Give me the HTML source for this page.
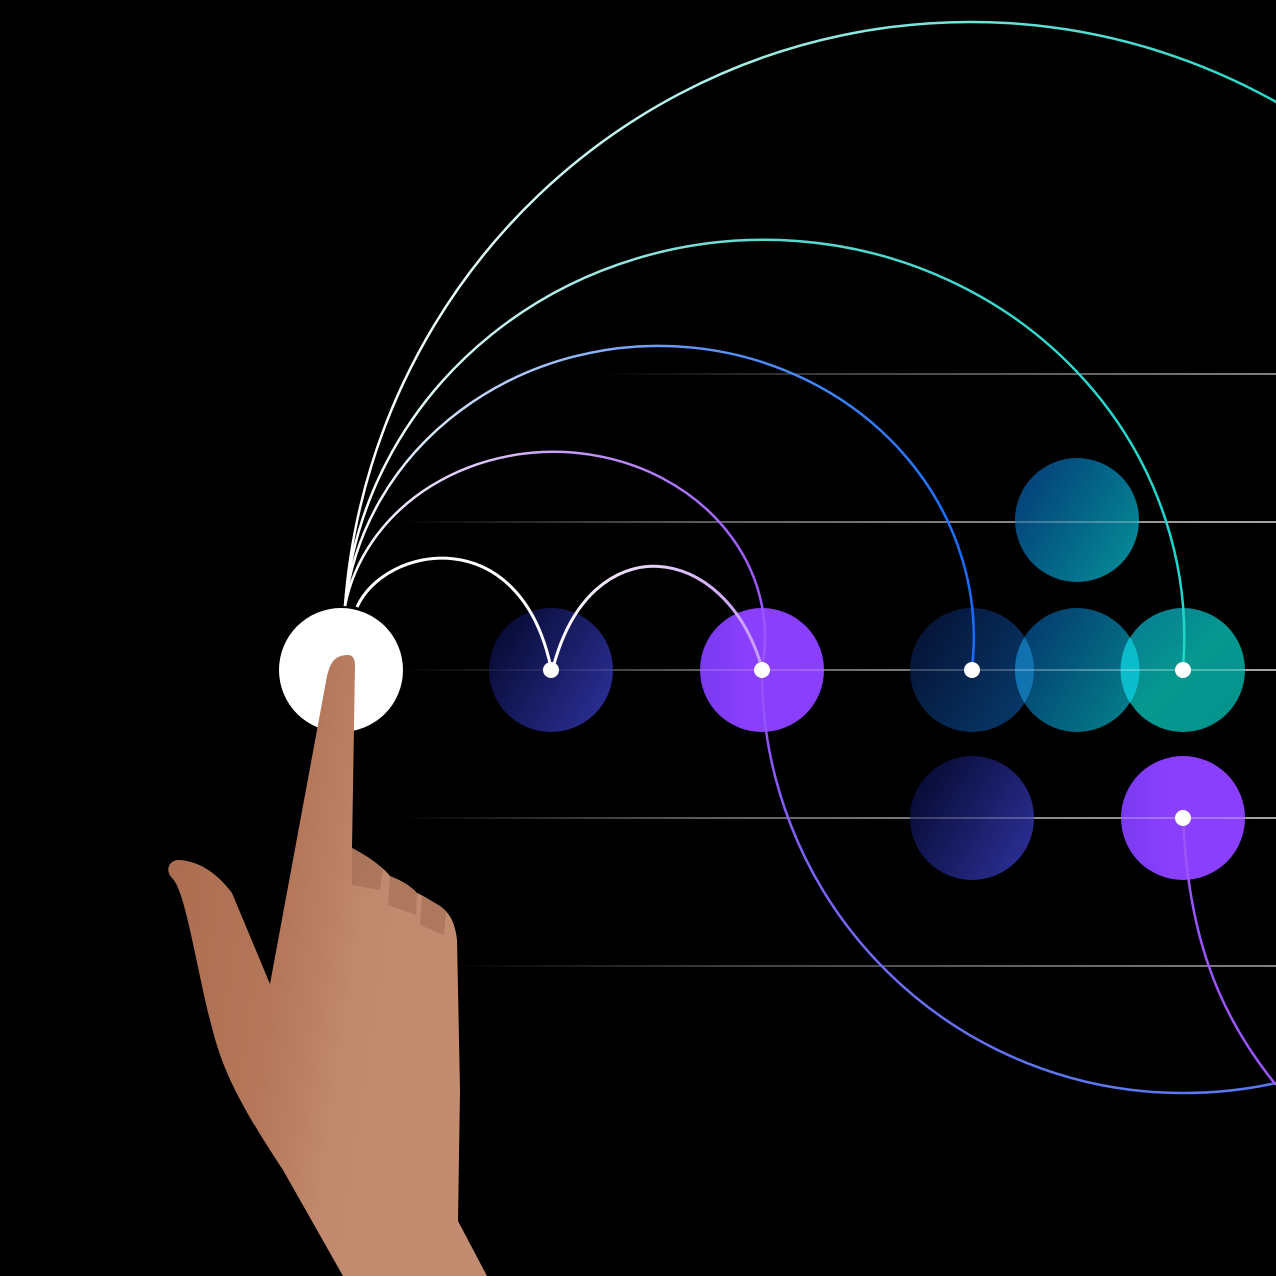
<!DOCTYPE html>
<html><head><meta charset="utf-8"><style>
html,body{margin:0;padding:0;background:#000;}
svg{display:block;}
</style></head><body>
<svg width="1276" height="1276" viewBox="0 0 1276 1276" xmlns="http://www.w3.org/2000/svg">
<defs>
<linearGradient id="hl" x1="0" x2="1" y1="0" y2="0"><stop offset="0" stop-color="#fff" stop-opacity="0"/><stop offset="0.35" stop-color="#fff" stop-opacity="0.25"/><stop offset="1" stop-color="#fff" stop-opacity="0.5"/></linearGradient>
<linearGradient id="navy" x1="0" y1="0.2" x2="1" y2="0.8"><stop offset="0" stop-color="#050a30"/><stop offset="1" stop-color="#2c2f96"/></linearGradient>
<linearGradient id="navy2" x1="0" y1="0.2" x2="1" y2="0.8"><stop offset="0" stop-color="#061235"/><stop offset="1" stop-color="#073a6a"/></linearGradient>
<linearGradient id="tealA" x1="0" y1="0.2" x2="1" y2="0.8"><stop offset="0" stop-color="#043e78"/><stop offset="1" stop-color="#058a96"/></linearGradient>
<linearGradient id="tealB" x1="0" y1="0" x2="1" y2="1"><stop offset="0" stop-color="#077f9a"/><stop offset="0.5" stop-color="#05a097"/><stop offset="1" stop-color="#049a95"/></linearGradient>
<linearGradient id="purp" x1="0" x2="1"><stop offset="0" stop-color="#7a3af0"/><stop offset="0.4" stop-color="#8a3ffd"/><stop offset="1" stop-color="#8a3ffd"/></linearGradient>
<linearGradient id="gA" gradientUnits="userSpaceOnUse" x1="345" y1="0" x2="1276" y2="0"><stop offset="0" stop-color="#fff"/><stop offset="0.6" stop-color="#7fe6dc"/><stop offset="1" stop-color="#2ad6c8"/></linearGradient>
<linearGradient id="gB" gradientUnits="userSpaceOnUse" x1="345" y1="0" x2="1183" y2="0"><stop offset="0" stop-color="#fff"/><stop offset="0.5" stop-color="#5fd8d0"/><stop offset="1" stop-color="#1fd6cc"/></linearGradient>
<linearGradient id="gC" gradientUnits="userSpaceOnUse" x1="345" y1="0" x2="972" y2="0"><stop offset="0" stop-color="#fff"/><stop offset="0.5" stop-color="#6a9cf6"/><stop offset="1" stop-color="#1a6cff"/></linearGradient>
<linearGradient id="gD" gradientUnits="userSpaceOnUse" x1="345" y1="0" x2="762" y2="0"><stop offset="0" stop-color="#fff"/><stop offset="0.5" stop-color="#c9a2f8"/><stop offset="1" stop-color="#9a55fb"/></linearGradient>
<linearGradient id="gE" gradientUnits="userSpaceOnUse" x1="553" y1="0" x2="762" y2="0"><stop offset="0" stop-color="#fff"/><stop offset="1" stop-color="#c59af9"/></linearGradient>
<linearGradient id="gF" gradientUnits="userSpaceOnUse" x1="0" y1="670" x2="0" y2="1100"><stop offset="0" stop-color="#9a50fb"/><stop offset="1" stop-color="#5a78f0"/></linearGradient>
<linearGradient id="skin" x1="0" y1="0" x2="1" y2="0.3"><stop offset="0" stop-color="#a96a4e"/><stop offset="0.45" stop-color="#b5775a"/><stop offset="0.7" stop-color="#c18a6e"/><stop offset="1" stop-color="#c38b6f"/></linearGradient>
</defs>
<rect width="1276" height="1276" fill="#000"/>

<g>
<rect x="600" y="373" width="676" height="2" fill="url(#hl)"/>
<rect x="400" y="521" width="876" height="2" fill="url(#hl)"/>
<rect x="400" y="669" width="876" height="2" fill="url(#hl)"/>
<rect x="400" y="817" width="876" height="2" fill="url(#hl)"/>
<rect x="450" y="965" width="826" height="2" fill="url(#hl)"/>
</g>

<g>
<circle cx="551" cy="670" r="62" fill="url(#navy)"/>
<circle cx="762" cy="670" r="62" fill="url(#purp)"/>
<circle cx="972" cy="670" r="62" fill="url(#navy2)"/>
<circle cx="1077" cy="670" r="62" fill="url(#tealA)" opacity="0.92"/>
<circle cx="1183" cy="670" r="62" fill="url(#tealB)" opacity="0.95"/>
<circle cx="1077" cy="520" r="62" fill="url(#tealA)"/>
<circle cx="972" cy="818" r="62" fill="url(#navy)"/>
<circle cx="1183" cy="818" r="62" fill="url(#purp)"/>
<path d="M1024.5,637 A62,62 0 0 1 1024.5,703 A62,62 0 0 1 1024.5,637Z" fill="#1680c0" opacity="0.75"/>
<path d="M1130,637 A62,62 0 0 1 1130,703 A62,62 0 0 1 1130,637Z" fill="#0cc8d8" opacity="0.8"/>
<rect x="400" y="669" width="876" height="2" fill="url(#hl)" opacity="0.6"/>
<rect x="400" y="817" width="876" height="2" fill="url(#hl)" opacity="0.6"/>
<rect x="400" y="521" width="876" height="2" fill="url(#hl)" opacity="0.6"/>
</g>

<g fill="none" stroke-width="2.5">
<path d="M345,606 A627,630 0 0 1 1290,110" stroke="url(#gA)"/>
<path d="M345,606 A419,396 0 0 1 1183,668" stroke="url(#gB)"/>
<path d="M345,606 A314,290 0 0 1 972,668" stroke="url(#gC)"/>
<path d="M345,606 A209,183 0 0 1 762,668" stroke="url(#gD)"/>
<path d="M357,607 C385,545 520,520 551,668" stroke="#fff" stroke-width="3"/>
<path d="M553,668 C590,525 725,540 762,668" stroke="url(#gE)" stroke-width="3"/>
<path d="M762,670 A421,421 0 0 0 1183,1093 A421,421 0 0 0 1276,1083" stroke="url(#gF)"/>
<path d="M1183,818 C1188,930 1215,1010 1276,1085" stroke="#9a55fb"/>
</g>

<g fill="#fff">
<circle cx="551" cy="670" r="8"/><circle cx="762" cy="670" r="8"/><circle cx="972" cy="670" r="8"/><circle cx="1183" cy="670" r="8"/><circle cx="1183" cy="818" r="8"/>
</g>

<circle cx="341" cy="670" r="62" fill="#fff"/>

<path fill="url(#skin)" d="M348,655 C333,655 330,665 327,676 L270,984 L232,893 C215,870 195,860 177,860 C167,862 166,872 172,878 C185,890 195,960 210,1020 C220,1060 230,1090 283,1170 L343,1276 L487,1276 L458,1221 L460,1090 L457,940 C455,920 448,912 440,906 C430,900 422,895 417,893 C410,885 400,880 390,876 C385,870 375,860 352,848 L355,665 C355,658 352,655 348,655 Z"/>
<path fill="#8a5540" opacity="0.35" d="M352,848 C362,852 372,860 383,869 L380,890 L352,885Z"/>
<path fill="#8a5540" opacity="0.35" d="M390,876 C400,880 410,886 417,893 L416,915 L388,905Z"/>
<path fill="#8a5540" opacity="0.35" d="M422,896 C432,900 440,906 446,912 L444,935 L420,925Z"/>
</svg>
</body></html>
